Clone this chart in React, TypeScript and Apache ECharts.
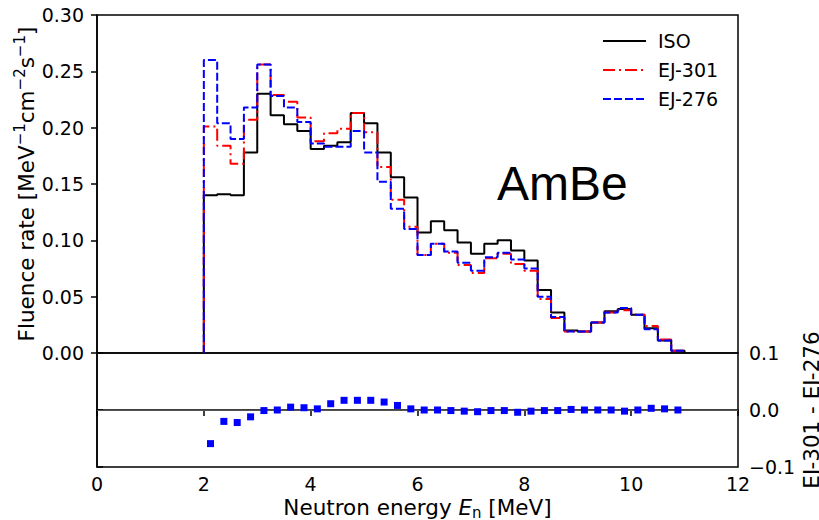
import React, { useEffect, useRef } from "react";
import * as echarts from "echarts";

// Histogram binning (MeV)
const BIN_START = 2;
const BIN_WIDTH = 0.25;

// Fluence rate per bin [MeV^-1 cm^-2 s^-1], bins 2.00–11.00 MeV
const isoValues = [
  0.140, 0.141, 0.140, 0.178, 0.230, 0.211, 0.203, 0.197, 0.181, 0.184,
  0.187, 0.213, 0.204, 0.178, 0.156, 0.138, 0.107, 0.117, 0.109, 0.098,
  0.088, 0.097, 0.100, 0.091, 0.082, 0.056, 0.036, 0.020, 0.019, 0.027,
  0.037, 0.039, 0.034, 0.022, 0.011, 0.002,
];
const ej301Values = [
  0.201, 0.184, 0.168, 0.207, 0.256, 0.229, 0.223, 0.209, 0.188, 0.195,
  0.199, 0.213, 0.196, 0.165, 0.136, 0.112, 0.087, 0.097, 0.089, 0.078,
  0.071, 0.084, 0.088, 0.079, 0.073, 0.048, 0.031, 0.019, 0.019, 0.027,
  0.036, 0.038, 0.034, 0.024, 0.012, 0.002,
];
const ej276Values = [
  0.260, 0.204, 0.190, 0.218, 0.256, 0.228, 0.218, 0.205, 0.186, 0.183,
  0.183, 0.197, 0.178, 0.152, 0.128, 0.110, 0.087, 0.097, 0.090, 0.080,
  0.073, 0.085, 0.089, 0.083, 0.075, 0.050, 0.032, 0.019, 0.019, 0.027,
  0.036, 0.040, 0.034, 0.021, 0.011, 0.002,
];
// EJ-301 - EJ-276 per bin (plotted at bin centres)
const diffValues = [
  -0.059, -0.020, -0.022, -0.012, -0.001, 0.000, 0.005, 0.004, 0.002, 0.011,
  0.017, 0.017, 0.017, 0.014, 0.008, 0.002, 0.000, 0.000, -0.001, -0.002,
  -0.003, -0.001, -0.001, -0.004, -0.002, -0.001, -0.001, 0.001, 0.000, 0.000,
  0.000, -0.002, 0.000, 0.003, 0.002, 0.000,
];

const seriesNames = ["ISO", "EJ-301", "EJ-276"];
const seriesColors = ["#000000", "#ff0000", "#0000ff"];

const FONT = "DejaVu Sans";
const LABEL_SIZE = 21.5;

function stepPoints(values: number[]): number[][] {
  const pts: number[][] = [[BIN_START, 0]];
  values.forEach((v, i) => pts.push([BIN_START + i * BIN_WIDTH, v]));
  const end = BIN_START + values.length * BIN_WIDTH;
  pts.push([end, values[values.length - 1]]);
  pts.push([end, 0]);
  return pts;
}

function diffPoints(values: number[]): number[][] {
  return values.map((v, i) => [BIN_START + (i + 0.5) * BIN_WIDTH, v]);
}

export default function App() {
  const ref = useRef<HTMLDivElement>(null);

  useEffect(() => {
    if (!ref.current) return;
    const chart = echarts.init(ref.current, null, { renderer: "svg" });

    const lineTypes: any[] = ["solid", [12, 4, 2, 4], [8, 3]];
    const histSeries = [isoValues, ej301Values, ej276Values].map((vals, k) => ({
      name: seriesNames[k],
      type: "line",
      xAxisIndex: 0,
      yAxisIndex: 0,
      step: "end",
      showSymbol: false,
      symbol: "none",
      data: stepPoints(vals),
      lineStyle: { color: seriesColors[k], width: 2, type: lineTypes[k] },
      itemStyle: { color: seriesColors[k] },
      z: 3 + k,
    }));

    const option: any = {
      animation: false,
      backgroundColor: "#ffffff",
      textStyle: { fontFamily: FONT },
      grid: [
        { left: 97, right: 81, top: 15, height: 338, show: true, borderColor: "#000", borderWidth: 1.5, outerBoundsMode: "none", containLabel: false },
        { left: 97, right: 81, top: 353, height: 114, show: true, borderColor: "#000", borderWidth: 1.5, outerBoundsMode: "none", containLabel: false },
      ],
      legend: {
        orient: "vertical",
        left: 597,
        top: 26,
        itemWidth: 43,
        itemHeight: 14,
        itemGap: 9,
        data: seriesNames,
        itemStyle: { opacity: 0 },
        textStyle: { fontSize: 19, color: "#000", fontFamily: FONT, padding: [0, 0, 0, 7], lineHeight: 20 },
      },
      xAxis: [
        {
          gridIndex: 0, type: "value", min: 0, max: 12, interval: 2,
          axisLine: { show: false }, axisTick: { show: false }, axisLabel: { show: false }, splitLine: { show: false },
        },
        {
          gridIndex: 1, type: "value", min: 0, max: 12, interval: 2,
          axisLine: { show: true, lineStyle: { color: "#000", width: 1.5 } },
          axisTick: { show: true, length: 6, lineStyle: { color: "#000", width: 1.5 } },
          axisLabel: { fontSize: 19, color: "#000", margin: 7, fontFamily: FONT },
          splitLine: { show: false },
          name: "Neutron energy {it|E}{sub|n} [MeV]",
          nameLocation: "middle",
          nameGap: 27,
          nameTextStyle: {
            fontSize: LABEL_SIZE, color: "#000", fontFamily: FONT, lineHeight: 26,
            rich: {
              it: { fontSize: LABEL_SIZE, fontStyle: "italic", fontFamily: FONT, color: "#000", lineHeight: 26 },
              sub: { fontSize: 15, fontFamily: FONT, color: "#000", verticalAlign: "bottom", lineHeight: 15 },
            },
          },
        },
      ],
      yAxis: [
        {
          gridIndex: 0, type: "value", min: 0, max: 0.3, interval: 0.05,
          axisLine: { show: true, lineStyle: { color: "#000", width: 1.5 } },
          axisTick: { show: true, length: 6, lineStyle: { color: "#000", width: 1.5 } },
          axisLabel: { fontSize: 19, color: "#000", margin: 13, fontFamily: FONT, formatter: (v: number) => v.toFixed(2) },
          splitLine: { show: false },
          name: "Fluence rate [MeV{sup|−1}cm{sup|−2}s{sup|−1}]",
          nameLocation: "middle",
          nameMoveOverlap: false,
          nameGap: 57,
          nameTextStyle: {
            fontSize: LABEL_SIZE, color: "#000", fontFamily: FONT, lineHeight: 28,
            rich: {
              sup: { fontSize: 15, fontFamily: FONT, color: "#000", verticalAlign: "top", lineHeight: 15 },
            },
          },
        },
        {
          gridIndex: 1, type: "value", min: -0.1, max: 0.1, interval: 0.1, position: "right",
          axisLine: { show: true, lineStyle: { color: "#000", width: 1.5 } },
          axisTick: { show: true, length: 6, lineStyle: { color: "#000", width: 1.5 } },
          axisLabel: {
            fontSize: 19, color: "#000", margin: 11, fontFamily: FONT,
            formatter: (v: number) => (v < 0 ? "−" + Math.abs(v).toFixed(1) : v.toFixed(1)),
          },
          splitLine: { show: false },
          name: "EJ-301 - EJ-276",
          nameLocation: "middle",
          nameRotate: 90,
          nameMoveOverlap: false,
          nameGap: 62,
          nameTextStyle: { fontSize: LABEL_SIZE, color: "#000", fontFamily: FONT },
        },
      ],
      graphic: [
        {
          type: "text",
          x: 497,
          y: 183,
          style: { text: "AmBe", fontSize: 48, fontFamily: "Liberation Sans", fill: "#000", verticalAlign: "middle", align: "left" },
          z: 10,
        },
      ],
      series: [
        ...histSeries,
        {
          name: "diff",
          type: "scatter",
          xAxisIndex: 1,
          yAxisIndex: 1,
          symbol: "rect",
          symbolSize: 7,
          data: diffPoints(diffValues),
          itemStyle: { color: "#0000ff", opacity: 1 },
          z: 5,
          markLine: {
            silent: true,
            symbol: "none",
            label: { show: false },
            lineStyle: { color: "#555555", width: 1, type: "solid" },
            data: [{ yAxis: 0 }],
            z: 2,
          },
        },
      ],
    };

    chart.setOption(option);
    return () => chart.dispose();
  }, []);

  return (
    <div
      ref={ref}
      style={{ position: "fixed", left: 0, top: 0, width: 819, height: 520, background: "#fff" }}
    />
  );
}
